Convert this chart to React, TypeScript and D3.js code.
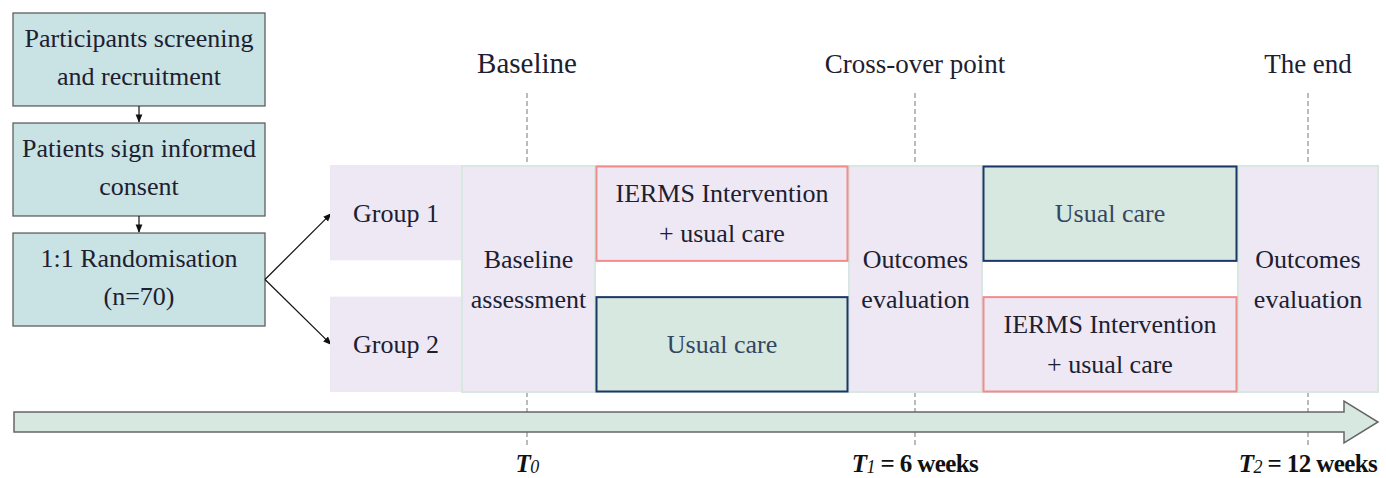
import React from "react";
import * as d3 from "d3";

// ---------- data ----------
const stepLines: string[][] = [
  ["Participants screening", "and recruitment"],
  ["Patients sign informed", "consent"],
  ["1:1 Randomisation", "(n=70)"],
];
const groupNames = ["Group 1", "Group 2"];
const milestoneTitles = ["Baseline", "Cross-over point", "The end"];
const milestoneWeeks = [0, 6, 12];
const milestoneSubs = ["0", "1", "2"];
const milestoneRest = ["", " = 6 weeks", " = 12 weeks"];
const assessmentLabels = [["Baseline", "assessment"], ["Outcomes", "evaluation"], ["Outcomes", "evaluation"]];
const interventionLabel = ["IERMS Intervention", "+ usual care"];
const usualLabel = ["Usual care"];
// treatment per period (rows = groups)
const period1 = ["intervention", "usual"];
const period2 = ["usual", "intervention"];

// ---------- styles ----------
const FONT = "'Liberation Serif'";
const TEXT = "#1c2030";
const LAV = "#eee8f5";
const GREEN = "#d6e8e0";
const TEAL = "#c9e2e3";
const SALMON = "#f28b8b";
const NAVY = "#1b3669";

const W = 1386;
const H = 478;

export default function App() {
  const x = d3.scaleLinear().domain(milestoneWeeks).range([527, 915, 1308]);
  const stepY = d3.scaleBand<number>().domain([0, 1, 2]).range([13, 326]).paddingInner(0.155).paddingOuter(0);
  const rowY = d3.scaleBand<number>().domain([0, 1]).range([166, 392]).paddingInner(0.27);

  const stepX0 = 13, stepX1 = 265;
  const groupX0 = 330, groupX1 = 462;
  const colEdges = [
    [x(0) - 65, x(0) + 68],
    [x(6) - 66, x(6) + 67],
    [x(12) - 70, 1378],
  ];
  const periodCols = [
    [colEdges[0][1], colEdges[1][0]],
    [colEdges[1][1], colEdges[2][0]],
  ];

  const multiline = (lines: string[], cx: number, cy: number, fs: number, lh: number, fill = TEXT, key = "") => {
    const n = lines.length;
    return lines.map((l, i) => (
      <text key={key + i} x={cx} y={cy + (i - (n - 1) / 2) * lh + fs * 0.33} textAnchor="middle"
        fontFamily={FONT} fontSize={fs} fill={fill}>{l}</text>
    ));
  };

  const treatmentBox = (kind: string, c: number[], r: number, key: string) => {
    const y0 = rowY(r)!, h = rowY.bandwidth();
    const isInt = kind === "intervention";
    return (
      <g key={key}>
        <rect x={c[0] + 1.5} y={y0 + 0.5} width={c[1] - c[0] - 3} height={h - 1}
          fill={isInt ? LAV : GREEN} stroke={isInt ? SALMON : NAVY} strokeWidth={2} />
        {multiline(isInt ? interventionLabel : usualLabel, (c[0] + c[1]) / 2, y0 + h / 2, 26, 40,
          isInt ? TEXT : "#344660", key + "t")}
      </g>
    );
  };

  const arrowBodyTop = 412, arrowBodyBot = 432, headTop = 401, headBot = 443, headX = 1344, tipX = 1378;
  const arrowPath = `M14,${arrowBodyTop} L${headX},${arrowBodyTop} L${headX},${headTop} L${tipX},${(headTop + headBot) / 2} L${headX},${headBot} L${headX},${arrowBodyBot} L14,${arrowBodyBot} Z`;

  const randCy = stepY(2)! + stepY.bandwidth() / 2;

  return (
    <svg width={W} height={H} style={{ position: "absolute", left: 0, top: 0, fontFamily: "'Liberation Serif', serif" }}>
      <style>{`text { font-family: 'Liberation Serif', 'Times New Roman', serif !important; }`}</style>
      <defs>
        <marker id="ah" viewBox="0 0 10 10" refX="9" refY="5" markerWidth="7" markerHeight="7" orient="auto">
          <path d="M0,1 L10,5 L0,9 Z" fill="#111" />
        </marker>
      </defs>
      <rect width={W} height={H} fill="#fff" />

      {/* left steps */}
      {stepLines.map((lines, i) => {
        const y0 = stepY(i)!, h = stepY.bandwidth();
        return (
          <g key={"s" + i}>
            <rect x={stepX0} y={y0} width={stepX1 - stepX0} height={h} fill={TEAL} stroke="#5d6060" strokeWidth={1.3} />
            {multiline(lines, (stepX0 + stepX1) / 2, y0 + h / 2 - 2, 26, 38, TEXT, "sl" + i)}
          </g>
        );
      })}
      {[0, 1].map((i) => (
        <line key={"va" + i} x1={139} x2={139} y1={stepY(i)! + stepY.bandwidth()} y2={stepY(i + 1)! - 1}
          stroke="#111" strokeWidth={1.2} markerEnd="url(#ah)" />
      ))}

      {/* groups */}
      {groupNames.map((g, r) => {
        const y0 = rowY(r)!, h = rowY.bandwidth();
        return (
          <g key={"g" + r}>
            <line x1={stepX1} y1={randCy} x2={groupX0 + 1} y2={y0 + h / 2}
              stroke="#111" strokeWidth={1.2} markerEnd="url(#ah)" />
            <rect x={groupX0} y={y0 - (r === 0 ? 1 : 0)} width={groupX1 - groupX0} height={h} fill={LAV} />
            {multiline([g], (groupX0 + groupX1) / 2, y0 + h / 2, 26, 38, TEXT, "gt" + r)}
          </g>
        );
      })}

      {/* dashed milestone lines */}
      {milestoneWeeks.map((w, i) => (
        <g key={"d" + i}>
          <line x1={x(w)} x2={x(w)} y1={93} y2={166} stroke="#777" strokeWidth={1} strokeDasharray="5,3" />
          <line x1={x(w)} x2={x(w)} y1={392} y2={448} stroke="#777" strokeWidth={1} strokeDasharray="5,3" />
        </g>
      ))}

      {/* assessment columns */}
      {colEdges.map((c, i) => (
        <g key={"c" + i}>
          <rect x={c[0]} y={166} width={c[1] - c[0]} height={226} fill={LAV} stroke={GREEN} strokeWidth={2} />
          {multiline(assessmentLabels[i], (c[0] + c[1]) / 2, 279, 26, 40, TEXT, "cl" + i)}
        </g>
      ))}
      {/* period columns */}
      {periodCols.map((c, i) => (
        <g key={"p" + i}>
          <rect x={c[0]} y={166} width={c[1] - c[0]} height={226} fill="#fff" stroke={GREEN} strokeWidth={2} />
          {(i === 0 ? period1 : period2).map((k, r) => treatmentBox(k, c, r, `tb${i}${r}`))}
        </g>
      ))}

      {/* milestone titles */}
      {milestoneTitles.map((t, i) => (
        <text key={"mt" + i} x={x(milestoneWeeks[i])} y={73} textAnchor="middle" fontFamily={FONT}
          fontSize={i === 0 ? 29 : 27} fill={TEXT}>{t}</text>
      ))}

      {/* timeline arrow */}
      <path d={arrowPath} fill={GREEN} stroke="#666" strokeWidth={1.5} />

      {/* time labels */}
      {milestoneWeeks.map((w, i) => (
        <text key={"tl" + i} x={x(w)} y={472} textAnchor="middle"
          fontFamily={FONT} fontSize={25} fontWeight="bold" fill="#111" letterSpacing={-0.6}>
          <tspan fontStyle="italic">T</tspan>
          <tspan fontStyle="italic" fontWeight="normal" fontSize={18} dy={1}>{milestoneSubs[i]}</tspan>
          <tspan dy={-1}>{milestoneRest[i]}</tspan>
        </text>
      ))}
    </svg>
  );
}
